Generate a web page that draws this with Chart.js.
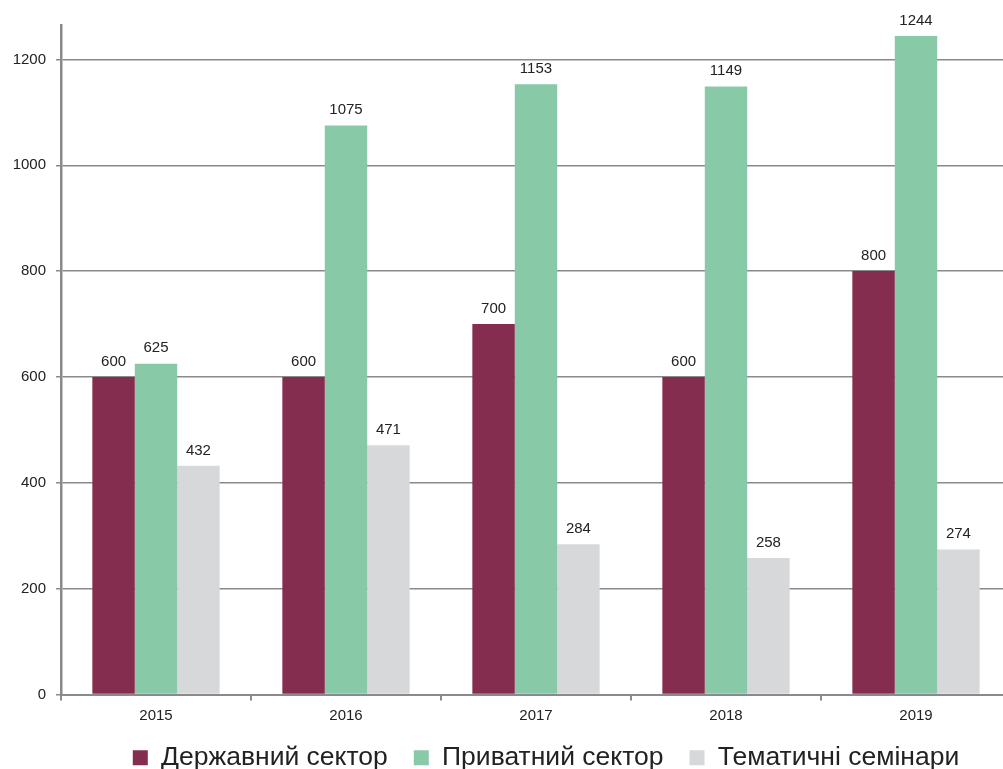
<!DOCTYPE html>
<html>
<head>
<meta charset="utf-8">
<script src="https://cdn.jsdelivr.net/npm/chart.js@4/dist/chart.umd.min.js"></script>
<style>
    html, body { margin: 0; padding: 0; background: #fff; overflow: hidden; }
    #wrap { width: 1012px; height: 769px; position: relative; }
</style>
</head>
<body>
<div id="wrap"><canvas id="chart"></canvas></div>
<script>
const years = ['2015', '2016', '2017', '2018', '2019'];
const publicSector = [600, 600, 700, 600, 800];
const privateSector = [625, 1075, 1153, 1149, 1244];
const seminars = [432, 471, 284, 258, 274];
const seriesNames = ['Державний сектор', 'Приватний сектор', 'Тематичні семінари'];
const yTicks = [0, 200, 400, 600, 800, 1000, 1200];

const colors = ['#852d4e', '#88c9a7', '#d7d8da'];
const fontFamily = '"Liberation Sans", Arial, sans-serif';

// value labels above each bar
const barValues = {
    id: 'barValues',
    afterDatasetsDraw(chart) {
        const ctx = chart.ctx;
        ctx.save();
        ctx.font = '15px ' + fontFamily;
        ctx.fillStyle = '#222';
        ctx.textAlign = 'center';
        ctx.textBaseline = 'bottom';
        chart.data.datasets.forEach((ds, i) => {
            chart.getDatasetMeta(i).data.forEach((bar, j) => {
                ctx.fillText(ds.data[j], bar.x, bar.y - 8);
            });
        });
        ctx.restore();
    }
};

// tighten the space above the legend and nudge it right
const legendShift = {
    id: 'legendShift',
    afterInit(chart) {
        const legend = chart.legend;
        const fit = legend.fit;
        const draw = legend.draw;
        legend.fit = function () {
            fit.call(this);
            this.height -= 10;
        };
        legend.draw = function () {
            const ctx = this.ctx;
            ctx.save();
            ctx.translate(10, -10);
            draw.call(this);
            ctx.restore();
        };
    }
};

const data = {
    labels: years,
    datasets: [
        { label: seriesNames[0], data: publicSector, backgroundColor: colors[0] },
        { label: seriesNames[1], data: privateSector, backgroundColor: colors[1] },
        { label: seriesNames[2], data: seminars, backgroundColor: colors[2] }
    ]
};

const config = {
    type: 'bar',
    data: data,
    options: {
        responsive: true,
        maintainAspectRatio: false,
        animation: false,
        barPercentage: 1,
        categoryPercentage: 0.67,
        layout: { padding: { top: 25, right: 1, bottom: -12 } },
        scales: {
            x: {
                afterFit: (scale) => { scale.height -= 2; },
                grid: { offset: true, drawOnChartArea: false, tickLength: 6, color: '#8a8a8e', lineWidth: 2 },
                border: { color: '#8a8a8e', width: 2 },
                ticks: { font: { size: 15, family: fontFamily }, color: '#222', padding: 6 }
            },
            y: {
                min: 0,
                max: 1265,
                afterBuildTicks: (scale) => { scale.ticks = yTicks.map(v => ({ value: v })); },
                afterFit: (scale) => { scale.width = 61; },
                grid: { color: '#8a8a8e', lineWidth: 1.5, tickLength: 5 },
                border: { color: '#8a8a8e', width: 2.5 },
                ticks: {
                    font: { size: 15, family: fontFamily },
                    color: '#222',
                    padding: 10,
                    callback: (v) => String(v)
                }
            }
        },
        plugins: {
            legend: {
                position: 'bottom',
                fullSize: false,
                labels: {
                    boxWidth: 15,
                    boxHeight: 15,
                    padding: 26,
                    color: '#222',
                    font: { size: 26.5, family: fontFamily }
                }
            },
            tooltip: { enabled: false }
        }
    },
    plugins: [barValues, legendShift]
};

new Chart(document.getElementById('chart'), config);
</script>
</body>
</html>
